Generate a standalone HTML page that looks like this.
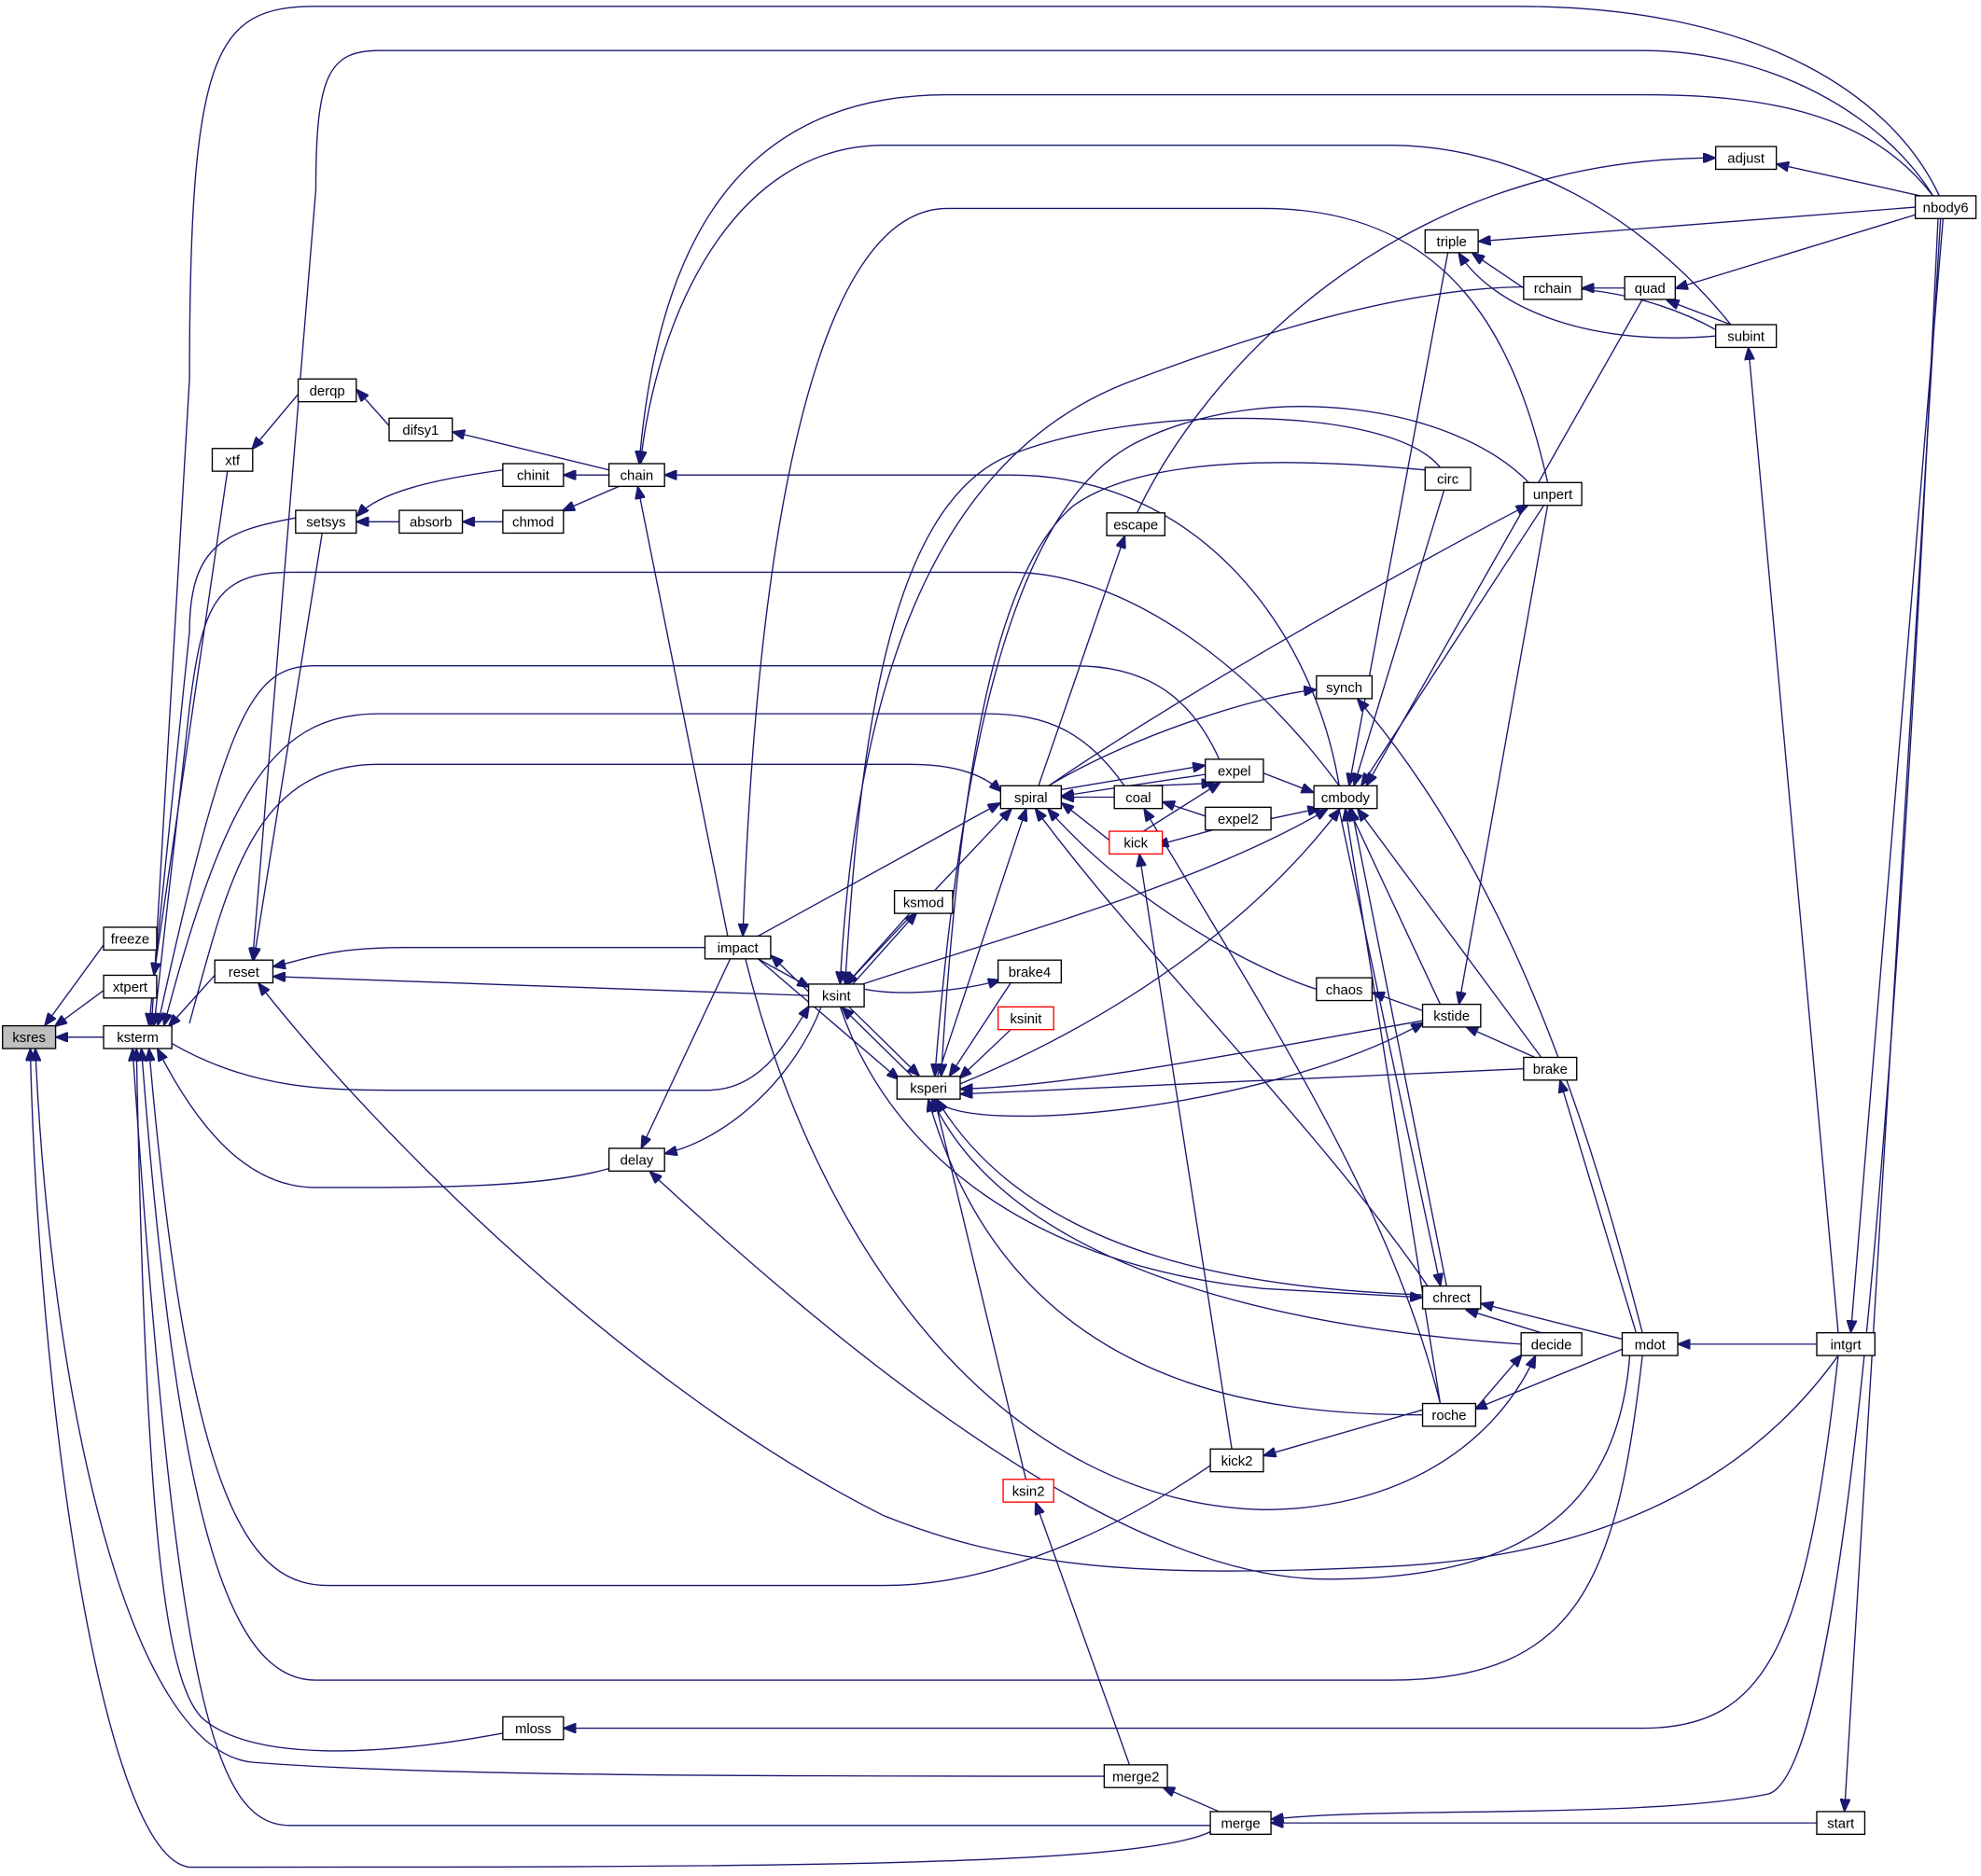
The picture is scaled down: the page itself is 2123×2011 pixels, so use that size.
<!DOCTYPE html>
<html><head><meta charset="utf-8"><style>
html,body{margin:0;padding:0;background:#fff}
svg{display:block}
text{font-family:"Liberation Sans",sans-serif;font-size:11px;fill:#000;text-anchor:middle}
.e{fill:none;stroke:#191970;stroke-width:1}
.n{fill:#fff;stroke:#000;stroke-width:1}
.r{fill:#fff;stroke:#ff0000;stroke-width:1}
</style></head><body>
<svg width="2123" height="2011" viewBox="0 0 1568 1485" preserveAspectRatio="none" xmlns="http://www.w3.org/2000/svg">
<defs><marker id="a" markerWidth="10" markerHeight="8" refX="9" refY="4" orient="auto" markerUnits="userSpaceOnUse"><path d="M0,0 L10,4 L0,8 Z" fill="#191970" stroke="#191970"/></marker></defs>
<g class="e" marker-end="url(#a)">
<path d="M82,748 L36,811"/>
<path d="M82,784 L44,812"/>
<path d="M82,821 L45,821"/>
<path d="M874,1406 C600,1406 340,1406 200,1395 C100,1385 40,1100 28,831"/>
<path d="M958,1450 C900,1478 600,1478 150,1478 C80,1470 30,1100 24,831"/>
<path d="M180,373 L122,771"/>
<path d="M170,772 L134,812"/>
<path d="M1535,155 C1500,80 1400,5 1200,5 L250,5 C170,5 150,40 150,300 L120,811"/>
<path d="M234,410 C180,420 150,430 150,500 L118,811"/>
<path d="M1060,622 C1000,540 900,453 800,453 L230,453 C170,453 160,480 150,560 L122,811"/>
<path d="M890,622 C860,580 830,565 780,565 L300,565 C220,565 180,620 130,811"/>
<path d="M965,601 C940,545 900,527 850,527 L250,527 C200,527 180,560 125,811"/>
<path d="M482,925 C430,940 350,940 250,940 C200,940 160,900 125,831"/>
<path d="M958,1160 C900,1200 800,1255 700,1255 L260,1255 C200,1255 150,1200 118,831"/>
<path d="M1300,1073 C1280,1250 1250,1330 1100,1330 L250,1330 C180,1330 140,1200 112,831"/>
<path d="M398,1372 C300,1390 200,1395 160,1360 C130,1330 115,1200 108,831"/>
<path d="M958,1445 L230,1445 C170,1445 140,1350 105,831"/>
<path d="M136,826 C200,863 260,863 320,863 L560,863 C600,863 620,830 640,797"/>
<path d="M150,810 C180,700 200,605 300,605 L720,605 C760,605 780,615 792,626"/>
<path d="M1530,155 C1490,90 1400,40 1300,40 L300,40 C260,40 250,60 250,150 L200,759"/>
<path d="M558,750 L320,750 C260,750 240,760 217,765"/>
<path d="M640,788 L217,773"/>
<path d="M1455,1073 C1400,1150 1300,1230 1100,1240 C900,1250 800,1240 700,1200 C500,1100 300,900 205,779"/>
<path d="M255,422 L201,759"/>
<path d="M236,312 L200,355"/>
<path d="M308,337 L283,309"/>
<path d="M482,372 L359,342"/>
<path d="M398,372 C340,380 300,390 283,408"/>
<path d="M316,413 L283,413"/>
<path d="M482,376 L447,376"/>
<path d="M398,413 L367,413"/>
<path d="M490,385 L446,404"/>
<path d="M576,741 L505,386"/>
<path d="M1530,155 C1480,90 1400,75 1300,75 L750,75 C580,75 520,200 506,366"/>
<path d="M1370,257 C1300,170 1200,115 1100,115 L700,115 C580,115 520,250 507,366"/>
<path d="M1060,622 C1040,500 950,376 800,376 L527,376"/>
<path d="M640,785 L611,757"/>
<path d="M1225,382 C1200,270 1150,165 1000,165 L750,165 C650,165 600,400 588,740"/>
<path d="M600,759 L640,781"/>
<path d="M722,852 L667,798"/>
<path d="M672,797 L727,851"/>
<path d="M650,797 C630,850 580,900 527,913"/>
<path d="M578,759 L508,908"/>
<path d="M1360,262 C1250,200 1100,225 900,300 C760,350 680,500 665,778"/>
<path d="M1140,370 C1100,320 900,320 800,360 C700,400 680,600 669,778"/>
<path d="M720,723 L670,779"/>
<path d="M675,779 L725,723"/>
<path d="M684,783 C720,790 770,782 791,776"/>
<path d="M800,778 L752,851"/>
<path d="M800,815 L760,853"/>
<path d="M812,1171 L740,871"/>
<path d="M1126,808 C1000,830 850,860 761,862"/>
<path d="M1206,846 L761,866"/>
<path d="M1126,1025 C1000,1020 820,1000 742,871"/>
<path d="M1204,1064 C1000,1050 800,1000 738,871"/>
<path d="M1126,1120 C1000,1120 800,1100 735,871"/>
<path d="M1210,382 C1150,320 1000,300 900,350 C800,400 760,600 740,851"/>
<path d="M1128,372 C1000,360 900,365 850,400 C790,450 760,600 745,851"/>
<path d="M740,870 C760,900 1000,880 1126,810"/>
<path d="M600,759 L711,854"/>
<path d="M742,852 L812,641"/>
<path d="M670,779 L800,641"/>
<path d="M600,741 L791,636"/>
<path d="M680,780 C800,740 950,700 1050,641"/>
<path d="M760,858 C900,800 1000,720 1060,641"/>
<path d="M840,625 L953,606"/>
<path d="M954,613 L841,630"/>
<path d="M882,631 L841,631"/>
<path d="M878,665 L841,636"/>
<path d="M1042,783 C1000,770 900,720 830,641"/>
<path d="M1130,1018 C1050,900 900,750 820,641"/>
<path d="M830,622 C900,580 1000,550 1041,546"/>
<path d="M830,622 C950,540 1150,430 1209,400"/>
<path d="M822,622 L890,425"/>
<path d="M900,406 C950,300 1100,125 1357,125"/>
<path d="M910,622 L960,620"/>
<path d="M905,658 L965,620"/>
<path d="M954,646 L921,635"/>
<path d="M960,657 L916,669"/>
<path d="M975,1147 L902,677"/>
<path d="M1000,612 L1039,627"/>
<path d="M1006,648 L1044,640"/>
<path d="M1140,1111 C1100,950 1000,800 906,641"/>
<path d="M1146,200 L1068,621"/>
<path d="M1143,388 L1072,621"/>
<path d="M1222,400 L1078,621"/>
<path d="M1300,237 L1082,621"/>
<path d="M1145,1018 L1070,641"/>
<path d="M1060,641 L1140,1017"/>
<path d="M1140,795 L1068,641"/>
<path d="M1220,837 L1075,641"/>
<path d="M1140,1111 L1065,641"/>
<path d="M1300,1055 C1260,900 1200,700 1075,554"/>
<path d="M1126,800 L1087,786"/>
<path d="M1225,400 L1155,794"/>
<path d="M1215,837 L1161,813"/>
<path d="M1295,1055 L1235,856"/>
<path d="M1220,1055 L1161,1037"/>
<path d="M1284,1060 L1173,1032"/>
<path d="M665,797 C700,900 800,1000 1000,1020 L1125,1027"/>
<path d="M1168,1115 L1204,1073"/>
<path d="M1284,1068 L1168,1115"/>
<path d="M1438,1064 L1329,1064"/>
<path d="M1126,1116 L1001,1152"/>
<path d="M590,759 C650,1000 800,1190 1000,1195 C1100,1195 1180,1150 1215,1074"/>
<path d="M1290,1073 C1280,1200 1200,1250 1050,1250 C900,1250 700,1100 515,928"/>
<path d="M1455,1055 L1384,276"/>
<path d="M1538,173 L1465,1054"/>
<path d="M1536,173 L1460,1433"/>
<path d="M1534,173 C1500,900 1460,1400 1400,1420 C1300,1440 1100,1430 1007,1440"/>
<path d="M1516,164 L1171,191"/>
<path d="M1206,228 L1166,201"/>
<path d="M1358,266 C1250,275 1180,240 1155,201"/>
<path d="M1286,228 L1253,228"/>
<path d="M1516,170 L1327,228"/>
<path d="M1370,257 L1320,238"/>
<path d="M1520,155 L1407,130"/>
<path d="M1455,1073 C1430,1300 1400,1368 1300,1368 L447,1368"/>
<path d="M965,1434 L921,1415"/>
<path d="M894,1397 L820,1190"/>
<path d="M1438,1443 L1007,1443"/>
</g>
<g>
<rect x="2" y="812" width="42" height="18" fill="#bfbfbf" stroke="#000"/><text x="23" y="825">ksres</text>
<rect class="n" x="82" y="734" width="42" height="18"/><text x="103" y="747">freeze</text>
<rect class="n" x="82" y="772" width="42" height="18"/><text x="103" y="785">xtpert</text>
<rect class="n" x="82" y="812" width="54" height="18"/><text x="109" y="825">ksterm</text>
<rect class="n" x="170" y="760" width="46" height="18"/><text x="193" y="773">reset</text>
<rect class="n" x="168" y="355" width="32" height="18"/><text x="184" y="368">xtf</text>
<rect class="n" x="236" y="300" width="46" height="18"/><text x="259" y="313">derqp</text>
<rect class="n" x="308" y="331" width="50" height="18"/><text x="333" y="344">difsy1</text>
<rect class="n" x="398" y="367" width="48" height="18"/><text x="422" y="380">chinit</text>
<rect class="n" x="482" y="367" width="44" height="18"/><text x="504" y="380">chain</text>
<rect class="n" x="234" y="404" width="48" height="18"/><text x="258" y="417">setsys</text>
<rect class="n" x="316" y="404" width="50" height="18"/><text x="341" y="417">absorb</text>
<rect class="n" x="398" y="404" width="48" height="18"/><text x="422" y="417">chmod</text>
<rect class="n" x="558" y="741" width="52" height="18"/><text x="584" y="754">impact</text>
<rect class="n" x="640" y="779" width="44" height="18"/><text x="662" y="792">ksint</text>
<rect class="n" x="482" y="909" width="44" height="18"/><text x="504" y="922">delay</text>
<rect class="n" x="708" y="705" width="46" height="18"/><text x="731" y="718">ksmod</text>
<rect class="n" x="790" y="760" width="50" height="18"/><text x="815" y="773">brake4</text>
<rect class="r" x="790" y="797" width="44" height="18"/><text x="812" y="810">ksinit</text>
<rect class="n" x="710" y="852" width="50" height="18"/><text x="735" y="865">ksperi</text>
<rect class="n" x="792" y="622" width="48" height="18"/><text x="816" y="635">spiral</text>
<rect class="r" x="794" y="1171" width="40" height="18"/><text x="814" y="1184">ksin2</text>
<rect class="n" x="882" y="622" width="38" height="18"/><text x="901" y="635">coal</text>
<rect class="r" x="878" y="658" width="42" height="18"/><text x="899" y="671">kick</text>
<rect class="n" x="876" y="406" width="46" height="18"/><text x="899" y="419">escape</text>
<rect class="n" x="954" y="601" width="46" height="18"/><text x="977" y="614">expel</text>
<rect class="n" x="954" y="639" width="52" height="18"/><text x="980" y="652">expel2</text>
<rect class="n" x="1040" y="622" width="50" height="18"/><text x="1065" y="635">cmbody</text>
<rect class="n" x="1042" y="535" width="44" height="18"/><text x="1064" y="548">synch</text>
<rect class="n" x="1128" y="370" width="36" height="18"/><text x="1146" y="383">circ</text>
<rect class="n" x="1206" y="382" width="46" height="18"/><text x="1229" y="395">unpert</text>
<rect class="n" x="1128" y="182" width="42" height="18"/><text x="1149" y="195">triple</text>
<rect class="n" x="1206" y="219" width="46" height="18"/><text x="1229" y="232">rchain</text>
<rect class="n" x="1286" y="219" width="40" height="18"/><text x="1306" y="232">quad</text>
<rect class="n" x="1358" y="116" width="48" height="18"/><text x="1382" y="129">adjust</text>
<rect class="n" x="1516" y="155" width="48" height="18"/><text x="1540" y="168">nbody6</text>
<rect class="n" x="1358" y="257" width="48" height="18"/><text x="1382" y="270">subint</text>
<rect class="n" x="1042" y="774" width="44" height="18"/><text x="1064" y="787">chaos</text>
<rect class="n" x="1126" y="795" width="46" height="18"/><text x="1149" y="808">kstide</text>
<rect class="n" x="1206" y="837" width="42" height="18"/><text x="1227" y="850">brake</text>
<rect class="n" x="1126" y="1018" width="46" height="18"/><text x="1149" y="1031">chrect</text>
<rect class="n" x="1204" y="1055" width="48" height="18"/><text x="1228" y="1068">decide</text>
<rect class="n" x="1284" y="1055" width="44" height="18"/><text x="1306" y="1068">mdot</text>
<rect class="n" x="1438" y="1055" width="46" height="18"/><text x="1461" y="1068">intgrt</text>
<rect class="n" x="1126" y="1111" width="42" height="18"/><text x="1147" y="1124">roche</text>
<rect class="n" x="958" y="1147" width="42" height="18"/><text x="979" y="1160">kick2</text>
<rect class="n" x="398" y="1359" width="48" height="18"/><text x="422" y="1372">mloss</text>
<rect class="n" x="874" y="1397" width="50" height="18"/><text x="899" y="1410">merge2</text>
<rect class="n" x="958" y="1434" width="48" height="18"/><text x="982" y="1447">merge</text>
<rect class="n" x="1438" y="1434" width="38" height="18"/><text x="1457" y="1447">start</text>
</g>
</svg>
</body></html>
